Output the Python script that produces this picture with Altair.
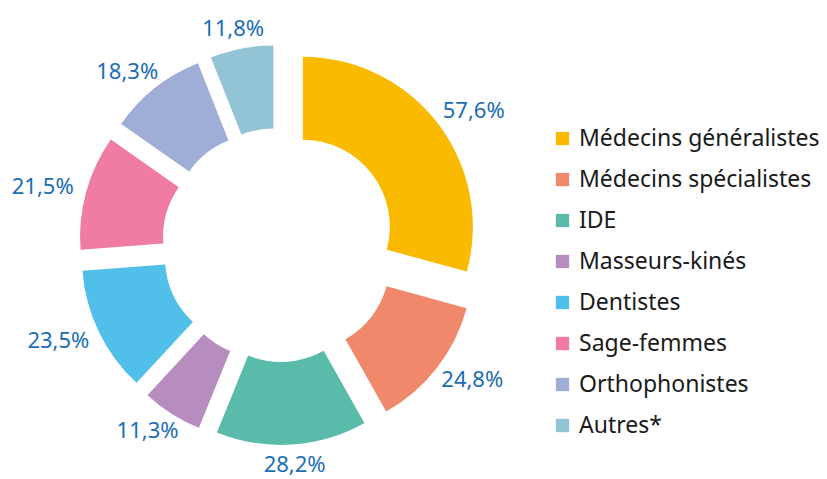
import altair as alt
import pandas as pd

categories = ["Médecins généralistes", "Médecins spécialistes", "IDE", "Masseurs-kinés",
              "Dentistes", "Sage-femmes", "Orthophonistes", "Autres*"]
values = [57.6, 24.8, 28.2, 11.3, 23.5, 21.5, 18.3, 11.8]
colors = ["#FABA00", "#F0886C", "#5BBBAB", "#B78CBF", "#50C0EA", "#F07BA3", "#9EAED6", "#93C4D5"]

# layout constants (pixels in plot area)
CX, CY = 271, 237
EXPLODE = 30
R_OUT, R_IN = 170, 87
R_LABEL_X, R_LABEL_Y = 215, 190
FONT = "Noto Sans"

df = pd.DataFrame({"cat": categories, "value": values, "order": list(range(len(values)))})

base = (
    alt.Chart(df)
    .transform_joinaggregate(total="sum(value)")
    .transform_window(cum="sum(value)", sort=[alt.SortField("order")], frame=[None, 0])
    .transform_calculate(a0="(datum.cum - datum.value) / datum.total * 2 * PI")
    .transform_calculate(a1="datum.cum / datum.total * 2 * PI")
    .transform_calculate(mid="(datum.a0 + datum.a1) / 2")
    .transform_calculate(px=f"{CX} + {EXPLODE} * sin(datum.mid)")
    .transform_calculate(py=f"{CY} - {EXPLODE} * cos(datum.mid)")
    .transform_calculate(lx=f"datum.px + {R_LABEL_X} * sin(datum.mid)")
    .transform_calculate(ly=f"datum.py - {R_LABEL_Y} * cos(datum.mid)")
    .transform_calculate(label="replace(format(datum.value, '.1f'), '.', ',') + '%'")
)

arcs = base.mark_arc(outerRadius=R_OUT, innerRadius=R_IN).encode(
    x=alt.X("px:Q", scale=None, axis=None),
    y=alt.Y("py:Q", scale=None, axis=None),
    theta=alt.Theta("a0:Q", scale=None),
    theta2="a1:Q",
    color=alt.Color(
        "cat:N",
        scale=alt.Scale(domain=categories, range=colors),
        sort=categories,
        legend=alt.Legend(
            title=None,
            orient="none",
            legendX=543,
            legendY=119,
            symbolType="square",
            symbolSize=177,
            symbolStrokeWidth=0,
            labelFont=FONT,
            labelFontSize=23,
            labelColor="#1a1a1a",
            labelOffset=5,
            rowPadding=17,
            labelLimit=400,
        ),
    ),
)

labels = base.mark_text(font=FONT, fontSize=22, color="#1B6DB5", align="center", baseline="middle").encode(
    x=alt.X("lx:Q", scale=None, axis=None),
    y=alt.Y("ly:Q", scale=None, axis=None),
    text="label:N",
)

chart = (
    alt.layer(arcs, labels)
    .properties(width=811, height=470, autosize=alt.AutoSizeParams(type="none"), padding=0)
    .configure_view(strokeWidth=0, stroke="transparent")
    .configure_axis(domain=False, grid=False, ticks=False, labels=False)
)

chart.save("out.html", embed_options={"renderer": "svg", "actions": False})
